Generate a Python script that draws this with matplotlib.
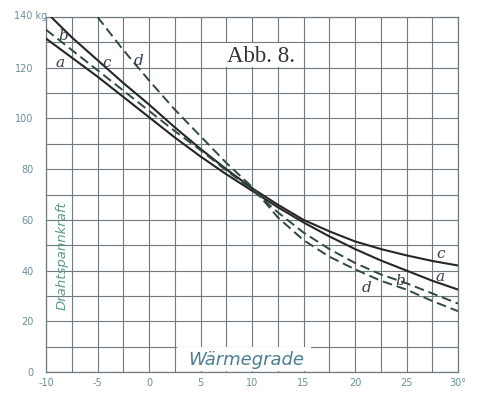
import matplotlib
matplotlib.use("Agg")
import matplotlib.pyplot as plt
from matplotlib.patches import Rectangle

# ---- data ----
temps = [-10, -7.5, -5, -2.5, 0, 2.5, 5, 7.5, 10, 12.5, 15, 17.5, 20, 22.5, 25, 27.5, 30]
curve_a = [131.5, 124, 116.5, 108.5, 100.5, 92.5, 85, 78, 71.5, 65, 59, 53.5, 48.5, 44, 40, 36, 32.5]
curve_b = [135, 127, 119, 111, 103, 95, 87.5, 79.5, 72, 63, 55, 48.5, 43, 38.5, 35, 31, 27]
curve_c = [142, 132, 123, 114, 105.5, 96.5, 88, 80, 72.5, 66, 60, 55.5, 51.5, 48.5, 46, 43.8, 42]
temps_d = [-5, -2.5, 0, 2.5, 5, 7.5, 10, 12.5, 15, 17.5, 20, 22.5, 25, 27.5, 30]
curve_d = [140, 127, 115, 103.5, 93, 82.5, 73, 61, 52, 45.5, 40.5, 36, 32.5, 28, 24]

x_grid = [-10, -7.5, -5, -2.5, 0, 2.5, 5, 7.5, 10, 12.5, 15, 17.5, 20, 22.5, 25, 27.5, 30]
x_labels = ["-10", "", "-5", "", "0", "", "5", "", "10", "", "15", "", "20", "", "25", "", "30°"]
y_grid = [0, 10, 20, 30, 40, 50, 60, 70, 80, 90, 100, 110, 120, 130, 140]
y_labels = ["0", "", "20", "", "40", "", "60", "", "80", "", "100", "", "120", "", ""]

title_text = "Abb. 8."
x_title = "Wärmegrade"
y_title = "Drahtspannkraft"
top_unit = "140 kg"

# ---- figure ----
fig = plt.figure(figsize=(4.87, 3.94), dpi=100)
ax = fig.add_axes([0.0945, 0.0558, 0.846, 0.901])
ax.set_xlim(-10, 30)
ax.set_ylim(0, 140)

grid_col = "#6f7a80"
label_col = "#6e8e98"

ax.set_xticks(x_grid)
ax.set_xticklabels(x_labels)
ax.set_yticks(y_grid)
ax.set_yticklabels(y_labels)
ax.tick_params(length=0, labelsize=7, colors=label_col)
ax.tick_params(axis="x", pad=4)
ax.tick_params(axis="y", pad=9)
ax.grid(True, color=grid_col, lw=0.8, zorder=0)
ax.set_axisbelow(True)
for s in ax.spines.values():
    s.set_color(grid_col)
    s.set_linewidth(0.9)

# white boxes behind the inscriptions
ax.add_patch(Rectangle((5.4, 120.3), 9.5, 9.5, facecolor="white", edgecolor="none", zorder=1.5))
ax.add_patch(Rectangle((2.7, 0.4), 13.0, 9.3, facecolor="white", edgecolor="none", zorder=1.5))

# curves
solid_col = "#262626"
dash_col = "#2e4a3c"
ax.plot(temps, curve_c, color=solid_col, lw=1.5, zorder=3)
ax.plot(temps, curve_a, color=solid_col, lw=1.5, zorder=3)
ax.plot(temps, curve_b, color=dash_col, lw=1.4, ls=(0, (5, 2.5)), zorder=3)
ax.plot(temps_d, curve_d, color=dash_col, lw=1.4, ls=(0, (5, 2.5)), zorder=3)

# curve labels
lab_kw = dict(fontsize=11, family="DejaVu Serif", style="italic", color="#3a3a4a",
              ha="center", va="center", zorder=4)
ax.text(-8.6, 121.8, "a", **lab_kw)
ax.text(-8.35, 132.5, "b", **lab_kw)
ax.text(-4.1, 122, "c", **lab_kw)
ax.text(-1.0, 122.5, "d", **lab_kw)
ax.text(28.3, 46.5, "c", **lab_kw)
ax.text(28.3, 37.5, "a", **lab_kw)
ax.text(21.1, 33, "d", **lab_kw)
ax.text(24.4, 36, "b", **lab_kw)

# inscriptions
ax.text(10.9, 124.5, title_text, fontsize=16.5, family="Liberation Serif", color="#333333",
        ha="center", va="center", zorder=4)
ax.text(9.4, 4.8, x_title, fontsize=13, style="italic", color="#4a7f92",
        ha="center", va="center", zorder=4)
ax.text(-8.4, 46, y_title, fontsize=9.5, style="italic", color="#5a9a88",
        rotation=90, ha="center", va="center", zorder=4)
ax.text(-13.1, 140.5, top_unit, fontsize=7, color=label_col, ha="left", va="center",
        clip_on=False)

fig.savefig("out.png", dpi=100, facecolor="white")
